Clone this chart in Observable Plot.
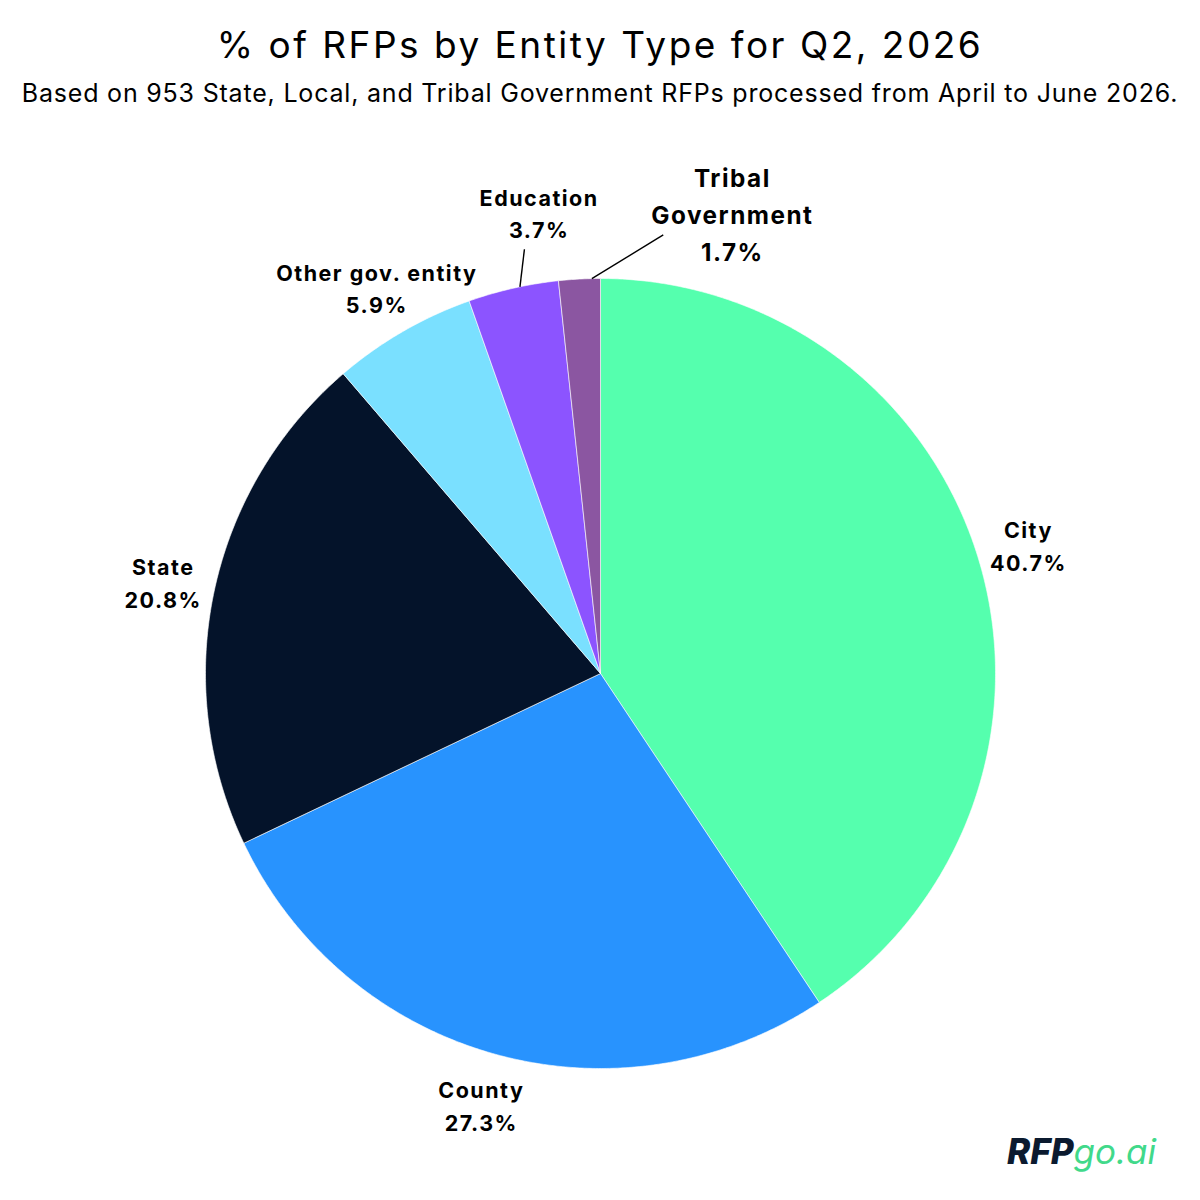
<!DOCTYPE html>
<html><head><meta charset="utf-8">
<script src="https://cdn.jsdelivr.net/npm/d3@7"></script>
<script src="https://cdn.jsdelivr.net/npm/@observablehq/plot@0.6"></script>
<style>
body{margin:0;background:#fff;font-family:Inter,sans-serif;width:1200px;height:1200px;position:relative;overflow:hidden}
#title{position:absolute;left:0;top:22px;width:1200px;text-align:center;font-size:37px;line-height:46px;letter-spacing:2.5px;color:#000}
#subtitle{position:absolute;left:0;top:78px;width:1200px;text-align:center;font-size:25px;line-height:30px;letter-spacing:0.8px;color:#000}
#chart{position:absolute;left:0;top:120px}
#chart svg text{letter-spacing:1.5px}
#logo{position:absolute;right:44px;top:1131px;font-size:35px;line-height:40px;font-style:italic;letter-spacing:0px}
#logo .a{font-weight:800;color:#0b1a2f}
#logo .b{font-weight:400;color:#41d98a}
</style></head>
<body>
<div id="title">% of RFPs by Entity Type for Q2, 2026</div>
<div id="subtitle">Based on 953 State, Local, and Tribal Government RFPs processed from April to June 2026.</div>
<div id="chart"></div>
<div id="logo"><span class="a">RFP</span><span class="b">go.ai</span></div>
<script>
const categories = ["City", "County", "State", "Other gov. entity", "Education", "Tribal Government"];
const shares = [40.7, 27.3, 20.8, 5.9, 3.7, 1.7];
const labelLines = ["City", "County", "State", "Other gov. entity", "Education", "Tribal\nGovernment"];
const palette = ["#55ffae", "#2893fe", "#04132a", "#7ae0ff", "#8c54ff", "#8b56a1"];

const R = 395;
const deg = Math.PI / 180;
const arcs = d3.pie().sort(null).value(d => d)(shares);

// slice polygons
const polys = [];
arcs.forEach((a, i) => {
  const name = categories[i];
  polys.push({name, x: 0, y: 0});
  const n = Math.max(2, Math.ceil((a.endAngle - a.startAngle) / (0.4 * deg)));
  for (let k = 0; k <= n; k++) {
    const t = a.startAngle + (a.endAngle - a.startAngle) * k / n;
    polys.push({name, x: R * Math.sin(t), y: R * Math.cos(t)});
  }
  polys.push({name, x: 0, y: 0});
});

// label layout (small slices get pushed outward with leader lines)
const labelLayout = {
  "Education": {shift: 5.2, r: 466, size: 21.5, leader: {start: 1.0, shift: 2.6, r: 431}},
  "Tribal Government": {shift: 19.0, r: 480, size: 24.3, leader: {start: 1.8, shift: 11.2, r: 443}}
};
const labels = [], leaders = [];
arcs.forEach((a, i) => {
  const name = categories[i];
  const mid = (a.startAngle + a.endAngle) / 2;
  const lay = labelLayout[name];
  const ang = mid + (lay ? lay.shift * deg : 0);
  const r = lay ? lay.r : 447;
  labels.push({name, size: lay ? lay.size : 21.5, x: r * Math.sin(ang), y: r * Math.cos(ang), text: `${labelLines[i]}\n${shares[i]}%`});
  if (lay) {
    const sa = mid + lay.leader.start * deg;
    const la = mid + lay.leader.shift * deg;
    leaders.push({x1: R * Math.sin(sa), y1: R * Math.cos(sa), x2: lay.leader.r * Math.sin(la), y2: lay.leader.r * Math.cos(la)});
  }
});

const chart = Plot.plot({
  width: 1200,
  height: 1080,
  margin: 0,
  x: {domain: [-600, 600], axis: null},
  y: {domain: [-527, 553], axis: null},
  color: {domain: categories, range: palette},
  style: {fontFamily: "Inter, sans-serif", background: "white"},
  marks: [
    Plot.line(polys, {x: "x", y: "y", z: "name", fill: "name", stroke: "white", strokeWidth: 0.6, curve: "linear"}),
    Plot.link(leaders, {x1: "x1", y1: "y1", x2: "x2", y2: "y2", stroke: "black", strokeWidth: 1.4}),
    Plot.text(labels, {x: "x", y: "y", text: "text", fontSize: "size", fontWeight: 700, lineHeight: 1.52, fill: "black"})
  ]
});
document.getElementById("chart").append(chart);
</script>
</body></html>
